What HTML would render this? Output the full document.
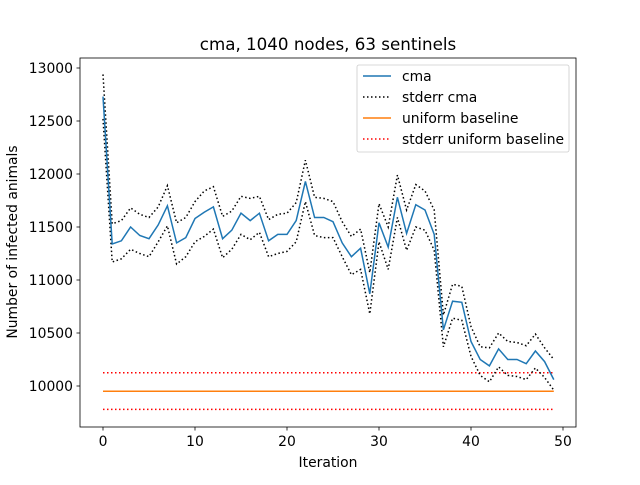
<!DOCTYPE html>
<html><head><meta charset="utf-8"><style>
body{margin:0;background:#fff}
svg{font-family:"DejaVu Sans","Liberation Sans",sans-serif}
</style></head><body>
<svg id="c" width="640" height="480" viewBox="0 0 640 480"></svg>
<script>
const iterations=[...Array(50).keys()];
const cma=[12730,11340,11370,11500,11420,11390,11520,11700,11350,11400,11580,11640,11690,11390,11470,11630,11560,11630,11370,11430,11430,11560,11930,11590,11590,11550,11350,11220,11300,10870,11540,11310,11780,11440,11710,11660,11430,10530,10800,10790,10420,10250,10190,10350,10250,10250,10210,10330,10230,10060];
const cmaUpper=[12940,11530,11560,11680,11620,11590,11690,11890,11540,11590,11740,11840,11880,11600,11650,11790,11770,11790,11570,11620,11630,11730,12130,11780,11770,11740,11550,11410,11480,11070,11720,11500,11990,11660,11900,11840,11660,10670,10960,10940,10560,10370,10360,10500,10420,10410,10380,10490,10360,10250];
const cmaLower=[12520,11170,11200,11290,11250,11220,11360,11510,11150,11220,11360,11410,11480,11210,11290,11430,11380,11450,11220,11250,11270,11360,11740,11420,11400,11400,11220,11050,11100,10680,11360,11100,11590,11280,11500,11470,11280,10370,10640,10620,10280,10100,10040,10180,10100,10090,10060,10170,10080,9960];
const baseline=[9950];
const baselineUpper=[10125];
const baselineLower=[9780];
const xTicks=[0,10,20,30,40,50];
const yTicks=[10000,10500,11000,11500,12000,12500,13000];

const svg=document.getElementById('c');
const NS='http://www.w3.org/2000/svg';
const L=80,R=576,T=58,B=427;
const FS=13.9;
const xs=v=>103+(v)*9.2;
const ys=v=>386-(v-10000)*0.106;
function mk(t,a,p){const e=document.createElementNS(NS,t);for(const k in a)e.setAttribute(k,a[k]);(p||svg).appendChild(e);return e;}
function path(vals,stroke,dash,name,w){
  const d=vals.map((v,i)=>(i?'L':'M')+xs(iterations[i]).toFixed(1)+','+ys(v).toFixed(1)).join(' ');
  const p=mk('path',{d:d,fill:'none',stroke:stroke,'stroke-width':w||1.5,'stroke-dasharray':dash||'none'});
  
  
}
function hline(v,stroke,dash,name){
  const p=mk('line',{x1:xs(0),x2:xs(49),y1:ys(v),y2:ys(v),stroke:stroke,'stroke-width':1.5,'stroke-dasharray':dash||'none'});
  
  
}
hline(baselineUpper[0],'#ff0000','1.5,2.5','stderr-baseline-upper');
hline(baselineLower[0],'#ff0000','1.5,2.5','stderr-baseline-lower');
hline(baseline[0],'#ff7f0e',null,'uniform-baseline-line');
path(cmaUpper,'#000','1.5,2.5','stderr-cma-upper');
path(cmaLower,'#000','1.5,2.5','stderr-cma-lower');
path(cma,'#1f77b4',null,'cma-line');
const frame=mk('rect',{x:L,y:T,width:R-L,height:B-T,fill:'none',stroke:'#000','stroke-width':0.8});


xTicks.forEach(t=>{
  mk('line',{x1:xs(t),x2:xs(t),y1:B,y2:B+3.5,stroke:'#000','stroke-width':0.8});
  const tx=mk('text',{x:xs(t),y:B+19,'font-size':FS,'text-anchor':'middle'});tx.textContent=t;
  
  
});
yTicks.forEach(t=>{
  mk('line',{x1:L-3.5,x2:L,y1:ys(t),y2:ys(t),stroke:'#000','stroke-width':0.8});
  const tx=mk('text',{x:L-7,y:ys(t)+5,'font-size':FS,'text-anchor':'end'});tx.textContent=t;
  
  
});
const title=mk('text',{x:328,y:50,'font-size':16.7,'text-anchor':'middle'});title.textContent='cma, 1040 nodes, 63 sentinels';


const xl=mk('text',{x:328,y:467,'font-size':FS,'text-anchor':'middle'});xl.textContent='Iteration';


const yl=mk('text',{x:0,y:0,'font-size':FS,'text-anchor':'middle',transform:'translate(17,242) rotate(-90)'});yl.textContent='Number of infected animals';


const lg=mk('g',{});


mk('rect',{x:357,y:65,width:212,height:87,rx:2,fill:'#fff','fill-opacity':0.8,stroke:'#ccc','stroke-width':0.8},lg);
const items=[['cma','#1f77b4',null],['stderr cma','#000','1.5,2.5'],['uniform baseline','#ff7f0e',null],['stderr uniform baseline','#ff0000','1.5,2.5']];
items.forEach((it,i)=>{
  const y=76+i*21;
  const g=mk('g',{},lg);
  
  
  mk('line',{x1:363,x2:391,y1:y,y2:y,stroke:it[1],'stroke-width':1.5,'stroke-dasharray':it[2]||'none'},g);
  const t=mk('text',{x:402,y:y+5,'font-size':FS},g);t.textContent=it[0];
});
</script>
</body></html>
